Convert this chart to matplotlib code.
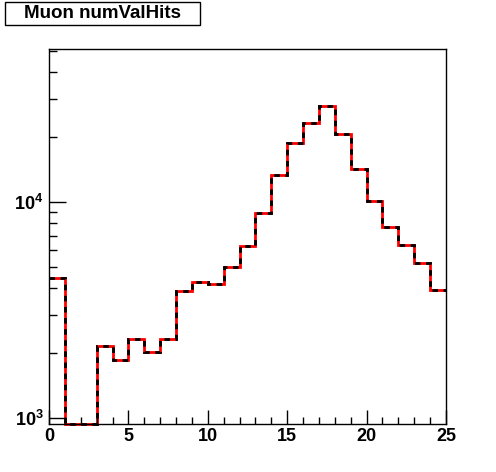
import matplotlib
matplotlib.use("Agg")
import matplotlib.pyplot as plt
import numpy as np
from matplotlib.patches import Rectangle
from matplotlib.ticker import LogLocator, FixedLocator, NullFormatter, MultipleLocator

plt.rcParams['font.family'] = ['Liberation Sans', 'DejaVu Sans']
plt.rcParams['mathtext.fontset'] = 'custom'
plt.rcParams['mathtext.bf'] = 'Liberation Sans:bold'
plt.rcParams['mathtext.rm'] = 'Liberation Sans:bold'

bin_edges = np.arange(0, 26, 1)
counts = [4450, 0, 0, 2160, 1860, 2330, 2030, 2340, 3870, 4280, 4170, 5010,
          6250, 8950, 13380, 18830, 23300, 28050, 20700, 14260, 10140, 7720,
          6340, 5240, 3930]
title = "Muon numValHits"

ymin, ymax = 946, 51300

fig = plt.figure(figsize=(4.96, 4.72), dpi=100)
ax = fig.add_axes([49 / 496, 1 - 423.5 / 472, 397 / 496, 374.5 / 472])

# empty bins sit on the bottom of the frame, like ROOT does
drawn = np.clip(np.array(counts, dtype=float), ymin, None)
ax.stairs(drawn, bin_edges, color='red', lw=2, baseline=None, clip_on=False)
ax.stairs(drawn, bin_edges, color='black', lw=2, linestyle=(0, (2, 2)),
          baseline=None, clip_on=False)

ax.set_yscale('log')
ax.set_xlim(0, 25)
ax.set_ylim(ymin, ymax)

ax.xaxis.set_major_locator(MultipleLocator(5))
ax.xaxis.set_minor_locator(MultipleLocator(1))
ax.yaxis.set_major_locator(FixedLocator([1e3, 1e4]))
ax.yaxis.set_minor_locator(LogLocator(base=10, subs=np.arange(2, 10)))
ax.yaxis.set_minor_formatter(NullFormatter())
ax.set_yticklabels([r'$\mathbf{10^{3}}$', r'$\mathbf{10^{4}}$'])

ax.tick_params(which='both', direction='in', top=False, right=False,
               width=1, labelsize=13)
ax.tick_params(axis='x', which='major', length=10, pad=3)
ax.tick_params(axis='x', which='minor', length=5)
ax.tick_params(axis='y', which='major', length=12, pad=4)
ax.tick_params(axis='y', which='minor', length=6)
for lab in ax.get_xticklabels():
    lab.set_fontweight('bold')
for sp in ax.spines.values():
    sp.set_linewidth(1)

fig.patches.append(Rectangle((4.5 / 496, 1 - 25 / 472), 195 / 496, 22.5 / 472,
                             transform=fig.transFigure, fc='white', ec='black', lw=1))
fig.text(102 / 496, 1 - 14 / 472, title, ha='center', va='center',
         fontsize=13.5, fontweight='bold')

fig.savefig('out.png', dpi=100)
